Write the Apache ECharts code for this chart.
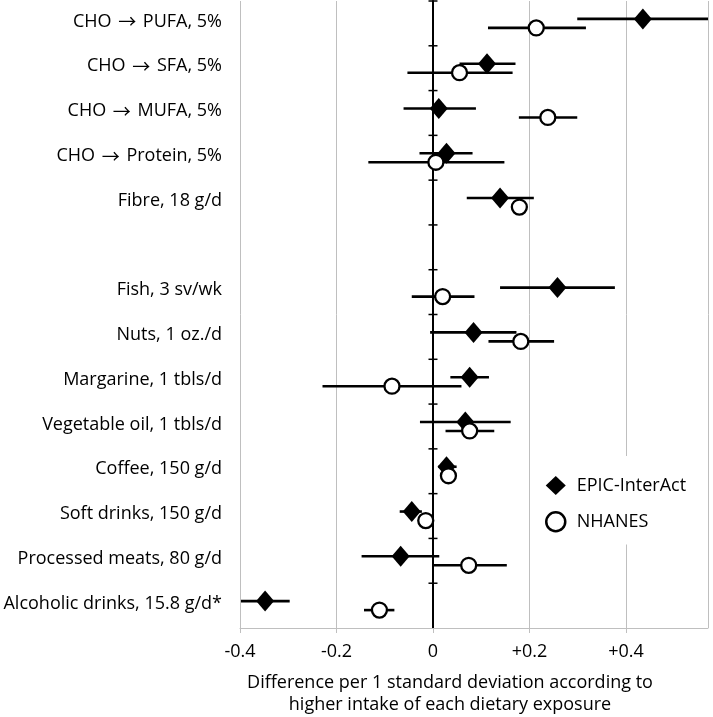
<!DOCTYPE html>
<html>
<head>
<meta charset="utf-8">
<script src="https://cdn.jsdelivr.net/npm/echarts@6/dist/echarts.min.js"></script>
<style>
html,body{margin:0;padding:0;background:#fff;}
#chart{width:713px;height:717px;}
</style>
</head>
<body>
<div id="chart"></div>
<script>
const categories = ['CHO \u2192 PUFA, 5%', 'CHO \u2192 SFA, 5%', 'CHO \u2192 MUFA, 5%', 'CHO \u2192 Protein, 5%', 'Fibre, 18 g/d', '', 'Fish, 3 sv/wk', 'Nuts, 1 oz./d', 'Margarine, 1 tbls/d', 'Vegetable oil, 1 tbls/d', 'Coffee, 150 g/d', 'Soft drinks, 150 g/d', 'Processed meats, 80 g/d', 'Alcoholic drinks, 15.8 g/d*'];

const epicEst = [0.435, 0.112, 0.012, 0.028, 0.139, null, 0.258, 0.084, 0.076, 0.067, 0.028, -0.044, -0.067, -0.348];
const epicLo  = [0.299, 0.055, -0.061, -0.028, 0.070, null, 0.139, -0.006, 0.036, -0.027, 0.011, -0.069, -0.148, -0.398];
const epicHi  = [0.571, 0.171, 0.089, 0.082, 0.209, null, 0.377, 0.173, 0.116, 0.161, 0.049, -0.023, 0.013, -0.297];

const nhEst = [0.214, 0.055, 0.238, 0.006, 0.179, null, 0.020, 0.182, -0.085, 0.076, 0.032, -0.015, 0.074, -0.111];
const nhLo  = [0.114, -0.053, 0.178, -0.134, 0.165, null, -0.044, 0.115, -0.229, 0.026, 0.018, -0.030, -0.001, -0.143];
const nhHi  = [0.317, 0.165, 0.299, 0.148, 0.193, null, 0.086, 0.251, 0.059, 0.127, 0.046, 0.000, 0.153, -0.080];

const xTicks = [-0.4, -0.2, 0, 0.2, 0.4];
const xMin = -0.4, xMax = 0.57, xInterval = 0.2;

const seriesNames = ['EPIC-InterAct', 'NHANES'];
const xTitle = 'Difference per 1 standard deviation according to\nhigher intake of each dietary exposure';

const FONT = '"Open Sans"';
const FS = 18;

function pts(est) {
  const out = [];
  est.forEach((v, i) => { if (v != null) out.push([v, i]); });
  return out;
}
function bars(lo, hi) {
  const out = [];
  lo.forEach((v, i) => { if (v != null) out.push([v, hi[i], i]); });
  return out;
}
function barRenderer(dy) {
  return function (params, api) {
    const a = api.coord([api.value(0), api.value(2)]);
    const b = api.coord([api.value(1), api.value(2)]);
    return {
      type: 'line',
      shape: { x1: a[0], y1: a[1] + dy, x2: b[0], y2: b[1] + dy },
      style: { stroke: '#000', lineWidth: 2.6 }
    };
  };
}
function catLabel(v) {
  if (!v) return '';
  const parts = v.split('\u2192');
  if (parts.length === 1) return '{t|' + v + '}';
  return '{t|' + parts[0] + '}{ar|\u2192}{t|' + parts[1] + '}';
}
const boundaries = categories.map((c, i) => [0, i]);

const chart = echarts.init(document.getElementById('chart'), null, { renderer: 'canvas' });
chart.setOption({
  animation: false,
  backgroundColor: '#fff',
  textStyle: { fontFamily: FONT },
  grid: { left: 240, right: 5, top: 1, bottom: 89, containLabel: false, outerBoundsMode: 'none' },
  legend: {
    left: 536, top: 456, orient: 'vertical',
    backgroundColor: '#fff',
    padding: [20, 10, 12, 9],
    itemWidth: 20, itemHeight: 19, itemGap: 16,
    textStyle: { fontFamily: FONT, fontSize: FS, color: '#000', padding: [0, 0, 0, 6] },
    data: [
      { name: seriesNames[0], icon: 'diamond', itemStyle: { color: '#000', borderWidth: 0 } },
      { name: seriesNames[1], icon: 'circle', itemStyle: { color: '#fff', borderColor: '#000', borderWidth: 2.5 } }
    ]
  },
  xAxis: {
    type: 'value', min: xMin, max: xMax, interval: xInterval,
    axisLine: { show: true, onZero: false, lineStyle: { color: '#bfbfbf', width: 1 } },
    axisTick: { show: true, length: 5, lineStyle: { color: '#bfbfbf' } },
    splitLine: { show: true, lineStyle: { color: '#bfbfbf', width: 1 } },
    axisLabel: {
      fontFamily: FONT, fontSize: FS, color: '#000', margin: 15,
      showMaxLabel: false,
      formatter: v => {
        const r = Math.round(v * 10) / 10;
        if (!xTicks.some(t => Math.abs(t - r) < 1e-9)) return '';
        return r > 0 ? '+' + r.toFixed(1) : (r === 0 ? '0' : r.toFixed(1));
      }
    },
    name: xTitle, nameLocation: 'middle', nameGap: 44,
    nameTextStyle: { fontFamily: FONT, fontSize: FS, color: '#000', lineHeight: 22, padding: [0, 48, 0, 0] }
  },
  yAxis: [{
    type: 'category', data: categories, inverse: true,
    axisLine: { show: true, onZero: true, lineStyle: { color: '#000', width: 2 } },
    axisTick: { show: false },
    axisLabel: { show: false },
    splitLine: { show: false }
  }, {
    type: 'category', data: categories, inverse: true, position: 'left',
    axisLine: { show: false, onZero: false },
    axisTick: { show: false },
    axisLabel: {
      show: true, fontFamily: FONT, fontSize: FS, color: '#000', margin: 18,
      padding: [0, 0, 4, 0],
      formatter: catLabel,
      rich: {
        t: { fontFamily: FONT, fontSize: FS, color: '#000' },
        ar: { fontFamily: '"Noto Sans CJK SC"', fontSize: 18, color: '#000', padding: [0, 2, 0, 2] }
      }
    },
    splitLine: { show: false }
  }],
  series: [
    {
      type: 'custom', name: 'zeroTicks', silent: true, legendHoverLink: false,
      data: boundaries,
      encode: { x: 0, y: 1 },
      renderItem: function (params, api) {
        const c = api.coord([api.value(0), api.value(1)]);
        const band = api.size([0, 1])[1];
        const y = c[1] - band / 2;
        return { type: 'line', shape: { x1: c[0] - 4.5, y1: y, x2: c[0] + 4.5, y2: y }, style: { stroke: '#000', lineWidth: 1.5 } };
      },
      z: 3
    },
    {
      type: 'custom', name: 'epicBars', data: bars(epicLo, epicHi),
      encode: { x: [0, 1], y: 2 }, renderItem: barRenderer(-4.5), clip: true, z: 4
    },
    {
      type: 'scatter', name: seriesNames[0], data: pts(epicEst),
      symbol: 'diamond', symbolSize: [18, 21], symbolOffset: [0, -4.5],
      itemStyle: { color: '#000', opacity: 1 }, z: 5
    },
    {
      type: 'custom', name: 'nhBars', data: bars(nhLo, nhHi),
      encode: { x: [0, 1], y: 2 }, renderItem: barRenderer(4.5), clip: true, z: 6
    },
    {
      type: 'scatter', name: seriesNames[1], data: pts(nhEst),
      symbol: 'circle', symbolSize: 15, symbolOffset: [0, 4.5],
      itemStyle: { color: '#fff', borderColor: '#000', borderWidth: 2.3, opacity: 1 }, z: 7
    }
  ]
});
</script>
</body>
</html>
